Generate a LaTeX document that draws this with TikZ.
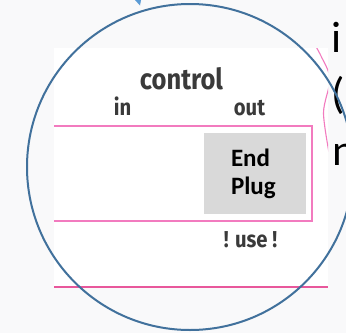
\documentclass[tikz,border=0pt]{standalone}
\usepackage{fontspec}
\setmainfont{Carlito}
\newfontfamily\firac[FakeStretch=0.88]{Fira Sans}
\definecolor{bgc}{HTML}{F9F9FA}
\definecolor{circblue}{HTML}{41719C}
\definecolor{arrblue}{HTML}{5B9BD5}
\definecolor{pinkbox}{HTML}{F27BBF}
\definecolor{pinkline}{HTML}{E8579B}
\definecolor{plugfill}{HTML}{D9D9D9}
\definecolor{lblgray}{HTML}{3A3A3A}
\tikzset{
  lbl/.style={inner sep=0pt, outer sep=0pt, text=lblgray, font=\firac\bfseries\fontsize{23}{23}\selectfont},
  bigtxt/.style={inner sep=0pt, outer sep=0pt, anchor=base west, text=black, font=\fontsize{44}{44}\selectfont},
  plugtxt/.style={inner sep=0pt, outer sep=0pt, anchor=base west, text=black, font=\bfseries\fontsize{25}{25}\selectfont}
}
\begin{document}
\begin{tikzpicture}[x=1pt,y=-1pt]
\useasboundingbox (0,0) rectangle (346,333);
\clip (0,0) rectangle (346,333);
\fill[bgc] (0,0) rectangle (346,333);
% white panel
\fill[white] (54,48) rectangle (328,287);
% pink box (clipped to panel)
\begin{scope}
  \clip (54,48) rectangle (328,287);
  \draw[pinkbox, line width=1.3pt] (40,126) -- (312,126) -- (312,221) -- (40,221);
  \draw[pinkbox, line width=1.1pt] plot[smooth] coordinates {(311,38) (321,56) (330,79) (323.5,113) (330,158)};
\end{scope}
\draw[pinkline, line width=1.3pt] (54,287) -- (328,287);
% end plug box
\node[fill=plugfill, inner sep=0pt, minimum width=102pt, minimum height=81pt, anchor=north west] (plug) at (204,133) {};
\node[plugtxt] (end) at (231,166) {End};
\node[plugtxt] (plg) at (231,194) {Plug};
% labels
\node[lbl, anchor=base, font=\firac\bfseries\fontsize{29}{29}\selectfont] (control) at (181.5,89) {control};
\node[lbl, anchor=base] (in) at (122.5,115) {in};
\node[lbl, anchor=base] (out) at (249.5,115) {out};
\node[lbl, anchor=base] (use) at (250.5,247) {! use !};
% right side text
\node[bigtxt] (t1) at (331,52) {i};
\node[bigtxt] (t2) at (331,108.5) {(};
\node[bigtxt] (t3) at (332,165) {n};
% small arrow tip at top
\fill[arrblue] (135,0) -- (141,0) -- (140,5.5) -- cycle;
% magnifier circle
\draw[circblue, line width=2pt] (190,167) circle[radius=163];
\end{tikzpicture}
\end{document}
